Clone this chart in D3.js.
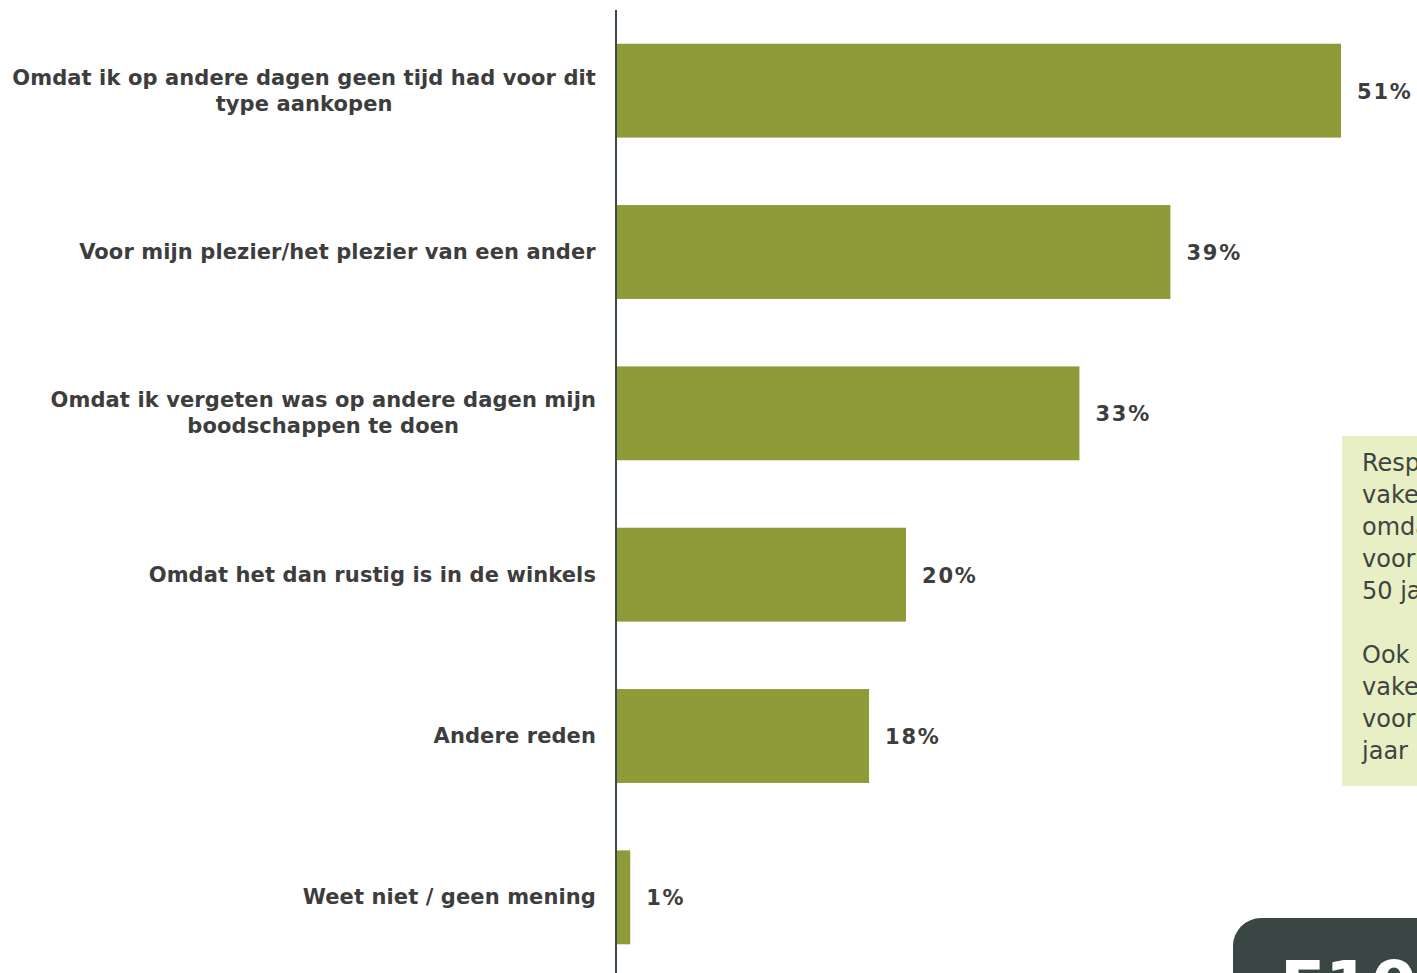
<!DOCTYPE html>
<html><head><meta charset="utf-8">
<script src="https://cdn.jsdelivr.net/npm/d3@7"></script>
<style>
html,body{margin:0;padding:0;background:#fff;overflow:hidden;}
svg{display:block;}
</style></head>
<body>
<svg id="c" width="1417" height="973"></svg>
<script>
const categories = [
  "Omdat ik op andere dagen geen tijd had voor dit\ntype aankopen",
  "Voor mijn plezier/het plezier van een ander",
  "Omdat ik vergeten was op andere dagen mijn\nboodschappen te doen",
  "Omdat het dan rustig is in de winkels",
  "Andere reden",
  "Weet niet / geen mening"
];
const values = [51.0, 39.0, 32.6, 20.4, 17.8, 1.0];
const valueLabels = ["51%", "39%", "33%", "20%", "18%", "1%"];
const noteLines = [
  "Respondenten gaan",
  "vaker op zondag",
  "omdat ze geen tijd",
  "voor hebben onder de",
  "50 jaar.",
  "",
  "Ook gaan ze",
  "vaker voor hun",
  "voor plezier onder 50",
  "jaar"
];
const badgeText = "E10";

const svg = d3.select("#c");
const axisX = 616;
const textColor = "#3d3d3d";
const font = "'DejaVu Sans', Verdana, sans-serif";

const y = d3.scaleBand().domain(categories).range([10, 978]).paddingInner(0.418).paddingOuter(0.209);
const x = d3.scaleLinear().domain([0, 51.0]).range([axisX, 1341]);

// note box
const note = svg.append("g");
note.append("rect").attr("x", 1342).attr("y", 436).attr("width", 200).attr("height", 350).attr("fill", "#e9efc4");
note.selectAll("text").data(noteLines).join("text")
  .attr("x", 1362).attr("y", (d, i) => 471 + i * 32)
  .attr("font-family", font).attr("font-size", 24).attr("fill", "#3d4543")
  .text(d => d);

// badge
svg.append("rect").attr("x", 1233).attr("y", 918).attr("width", 300).attr("height", 150).attr("rx", 28).attr("fill", "#3a4643");
svg.append("text").attr("x", 1280).attr("y", 1008).attr("font-family", font).attr("font-weight", "bold")
  .attr("font-size", 66).attr("fill", "#ffffff").text(badgeText);

// bars
svg.selectAll("rect.bar").data(values).join("rect").attr("class", "bar")
  .attr("x", x(0)).attr("y", (d, i) => y(categories[i]))
  .attr("width", d => x(d) - x(0)).attr("height", y.bandwidth())
  .attr("fill", "#8f9a38");

// value labels
svg.selectAll("text.val").data(values).join("text").attr("class", "val")
  .attr("x", d => x(d) + 16)
  .attr("y", (d, i) => y(categories[i]) + y.bandwidth() / 2 + 8)
  .attr("font-family", font).attr("font-weight", "bold").attr("font-size", 21)
  .attr("letter-spacing", 1.8)
  .attr("fill", textColor).text((d, i) => valueLabels[i]);

// category labels (multi-line centered block right-aligned to 596)
const lh = 26;
categories.forEach(c => {
  const lines = c.split("\n");
  const cy = y(c) + y.bandwidth() / 2;
  const g = svg.append("g");
  const t = g.append("text").attr("font-family", font).attr("font-weight", "bold")
    .attr("font-size", 21).attr("letter-spacing", 0.1).attr("fill", textColor).attr("text-anchor", "middle");
  lines.forEach((l, i) => {
    t.append("tspan").attr("x", 0).attr("y", cy + 7 + (i - (lines.length - 1) / 2) * lh).text(l);
  });
  const w = d3.max(t.selectAll("tspan").nodes(), n => n.getBBox().width);
  g.attr("transform", `translate(${596 - w / 2},0)`);
});

// axis line
svg.append("line").attr("x1", axisX).attr("x2", axisX).attr("y1", 10).attr("y2", 973)
  .attr("stroke", "#3c4a47").attr("stroke-width", 2);
</script>
</body></html>
